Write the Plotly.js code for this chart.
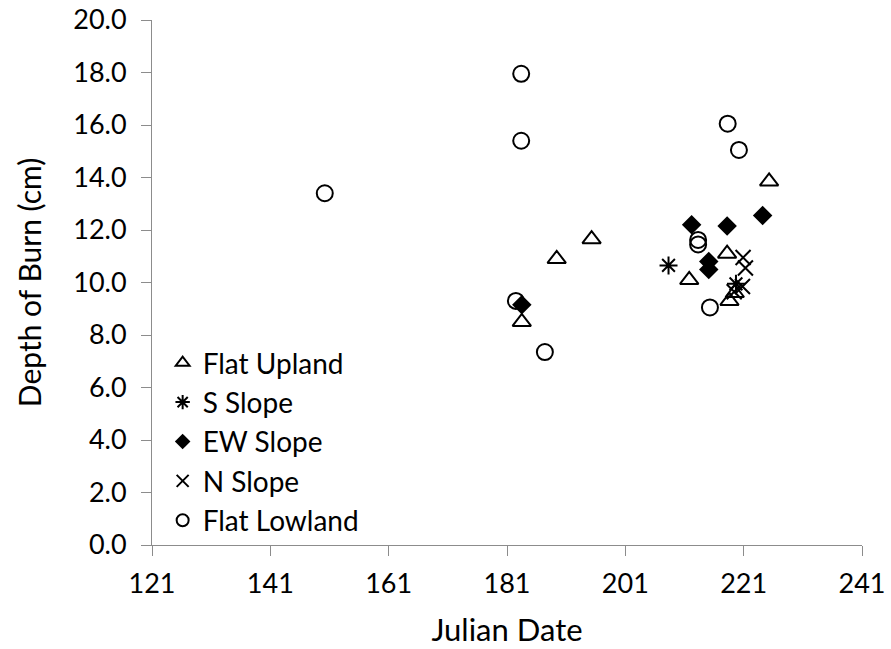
<!DOCTYPE html>
<html>
<head>
<meta charset="utf-8">
<script src="https://cdn.plot.ly/plotly-3.0.1.min.js"></script>
<style>html,body{margin:0;padding:0;background:#fff;}#chart{width:891px;height:649px;}</style>
</head>
<body>
<div id="chart"></div>
<script>
// Flat Upland
const flatUplandX = [183.5, 189.4, 195.3, 211.8, 218.2, 218.6, 219.5, 225.3];
const flatUplandY = [8.5, 10.9, 11.65, 10.1, 11.1, 9.3, 9.6, 13.85];
// S Slope
const sSlopeX = [208.3, 219.7];
const sSlopeY = [10.65, 9.95];
// EW Slope
const ewSlopeX = [183.5, 212.2, 215.1, 215.1, 218.2, 224.2];
const ewSlopeY = [9.15, 12.2, 10.8, 10.5, 12.15, 12.55];
// N Slope
const nSlopeX = [220.9, 221.3, 220.8, 219.4];
const nSlopeY = [10.95, 10.55, 9.85, 9.65];
// Flat Lowland
const flatLowlandX = [150.2, 182.5, 183.4, 183.4, 187.4, 213.3, 213.3, 215.3, 218.3, 220.2];
const flatLowlandY = [13.4, 9.3, 17.95, 15.4, 7.35, 11.62, 11.45, 9.05, 16.05, 15.05];

const seriesNames = ['Flat Upland', 'S Slope', 'EW Slope', 'N Slope', 'Flat Lowland'];
const xTickVals = [121, 141, 161, 181, 201, 221, 241];
const yTickVals = [0, 2, 4, 6, 8, 10, 12, 14, 16, 18, 20];

const FONT = 'Lato, "Open Sans", "DejaVu Sans", sans-serif';

function tr(x, y, name, symbol, size, color, lw, grp) {
  return {
    x: x, y: y, name: name, type: 'scatter', mode: 'markers',
    legendgroup: grp,
    marker: {symbol: symbol, size: size, color: color, line: {color: '#000', width: lw}},
    cliponaxis: false
  };
}

const data = [
  tr(flatUplandX, flatUplandY, seriesNames[0], 'triangle-up-open', 16, '#000', 2, 'a'),
  tr(sSlopeX, sSlopeY, seriesNames[1], 'asterisk-open', 15, '#000', 2, 'b'),
  tr(ewSlopeX, ewSlopeY, seriesNames[2], 'diamond', 15, '#000', 0, 'c'),
  tr(nSlopeX, nSlopeY, seriesNames[3], 'x-thin-open', 15, '#000', 2, 'd'),
  tr(flatLowlandX, flatLowlandY, seriesNames[4], 'circle-open', 16, '#000', 2, 'e')
];

const axisCommon = {
  showgrid: false, zeroline: false, showline: true, linecolor: '#8c8c8c', linewidth: 1,
  ticks: 'outside', ticklen: 10, tickcolor: '#8c8c8c', tickwidth: 1,
  tickfont: {family: FONT, size: 27, color: '#000'}
};

const layout = {
  width: 891, height: 649,
  margin: {l: 152, r: 29, t: 20, b: 104},
  paper_bgcolor: '#fff', plot_bgcolor: '#fff',
  showlegend: true,
  legend: {
    x: 0.015, y: 0.0, xanchor: 'left', yanchor: 'bottom',
    bgcolor: 'rgba(0,0,0,0)', font: {family: FONT, size: 28, color: '#000'},
    tracegroupgap: 0, itemsizing: 'constant'
  },
  xaxis: Object.assign({}, axisCommon, {
    range: [121, 241], tickvals: xTickVals, ticktext: xTickVals.map(String),
    ticklabelstandoff: 5,
    title: {text: 'Julian Date', font: {family: FONT, size: 31, color: '#000'}, standoff: 20}
  }),
  yaxis: Object.assign({}, axisCommon, {
    range: [0, 20], tickvals: yTickVals, ticktext: yTickVals.map(v => v.toFixed(1)),
    ticklabelstandoff: 9,
    title: {text: 'Depth of Burn (cm)', font: {family: FONT, size: 30, color: '#000'}, standoff: 22}
  })
};

Plotly.newPlot('chart', data, layout, {displayModeBar: false, staticPlot: true});
</script>
</body>
</html>
